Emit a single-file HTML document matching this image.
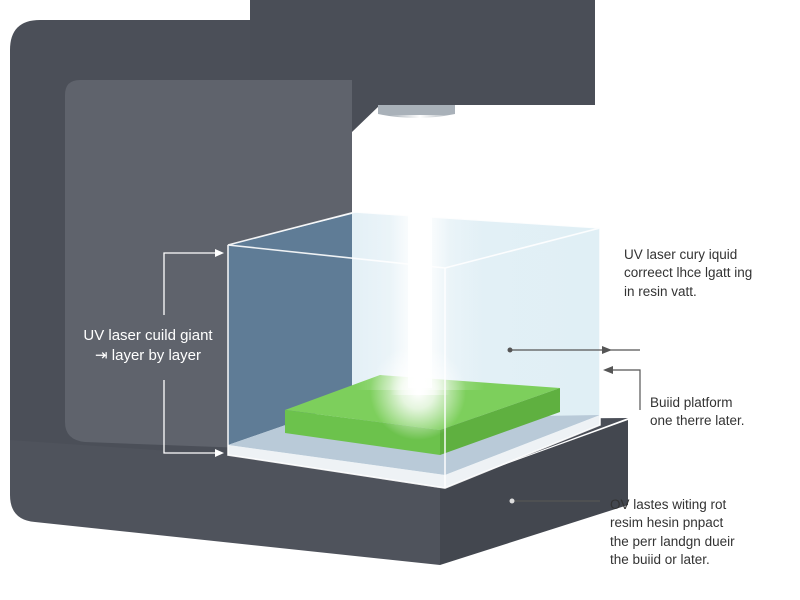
<!DOCTYPE html>
<html><head><meta charset="utf-8"><style>
html,body{margin:0;padding:0;background:#fff;width:800px;height:600px;overflow:hidden}
text{font-family:"Liberation Sans",sans-serif}
</style></head><body>
<svg width="800" height="600" viewBox="0 0 800 600" xmlns="http://www.w3.org/2000/svg">
<defs>
<linearGradient id="beam" x1="0" x2="1" y1="0" y2="0">
<stop offset="0" stop-color="#fff" stop-opacity="0"/>
<stop offset="0.5" stop-color="#fff" stop-opacity="1"/>
<stop offset="1" stop-color="#fff" stop-opacity="0"/>
</linearGradient>
<radialGradient id="glow"><stop offset="0" stop-color="#fff"/><stop offset="0.35" stop-color="#fff" stop-opacity="0.8"/><stop offset="1" stop-color="#fff" stop-opacity="0"/></radialGradient>
<linearGradient id="vat" x1="0" x2="1"><stop offset="0" stop-color="#e6f1f7"/><stop offset="1" stop-color="#e0eff5"/></linearGradient>
</defs>
<rect width="800" height="600" fill="#fff"/>
<!-- frame -->
<path d="M40 20 H250 V105 H352 V470 L10 470 V50 Q10 20 40 20Z" fill="#4b4f58"/>
<path d="M10 440 L228 455 L440 488 L440 565 L35 522 Q10 520 10 495Z" fill="#4f535c"/>
<path d="M352 420 L628 418 L440 488 L228 455Z" fill="#4a4e57"/>
<path d="M440 488 L628 420 V505 L440 565Z" fill="#43474f"/>
<rect x="250" y="0" width="345" height="105" fill="#4a4e57"/>
<path d="M352 105 H380 L352 132Z" fill="#4a4e57"/>
<path d="M80 80 H352 V452 L85 442 Q65 440 65 422 V95 Q65 80 80 80Z" fill="#5f636c"/>
<path d="M378 105 H455 V114 Q416 122 378 114Z" fill="#a9b1b9"/>
<!-- vat -->
<path d="M228 245 L355 212 L600 228 V420 L445 488 L228 455Z" fill="url(#vat)"/>
<path d="M228 245 L352 214 V385 Q352 395 362 395 L300 420 L228 445Z" fill="#5f7c96"/>
<path d="M228 445 L300 420 L600 415 L445 475Z" fill="#b9cad8"/>
<path d="M228 445 L445 475 L600 415 V425 L445 488 L228 455Z" fill="#eef2f5"/>
<!-- green block -->
<path d="M285 410 L380 375 L560 388 L440 430Z" fill="#7dcf5c"/>
<path d="M285 410 L440 430 V455 L285 433Z" fill="#6cc24c"/>
<path d="M440 430 L560 388 V412 L440 455Z" fill="#5fb040"/>
<!-- beam -->
<rect x="355" y="130" width="130" height="260" fill="url(#beam)" opacity="0.5"/>
<rect x="390" y="115" width="60" height="280" fill="url(#beam)"/>
<rect x="408" y="118" width="24" height="270" fill="#fff" opacity="0.85"/>
<circle cx="418" cy="392" r="48" fill="url(#glow)"/>
<!-- vat edges -->
<g stroke="#fff" stroke-width="1.6" fill="none" opacity="0.9">
<path d="M228 245 L355 212 L600 228 L445 268 Z"/>
<path d="M228 245 V455 L445 488 L600 425 V228"/>
<path d="M445 268 V488"/>
</g>
<!-- left callout -->
<g stroke="#fff" stroke-width="1.3" fill="none">
<path d="M164 315 V253 H218"/><path d="M164 380 V453 H218"/>
</g>
<path d="M224 253 L215 249 V257Z M224 453 L215 449 V457Z" fill="#fff"/>
<text x="148" y="340" fill="#fff" font-size="15" text-anchor="middle">UV laser cuild giant</text>
<text x="148" y="360" fill="#fff" font-size="15" text-anchor="middle">⇥ layer by layer</text>
<!-- right callouts -->
<g stroke="#555" stroke-width="1.2" fill="none">
<path d="M510 350 H640"/><path d="M612 370 H640 V410"/><path d="M512 501 H600"/>
</g>
<circle cx="510" cy="350" r="2.5" fill="#555"/><circle cx="512" cy="501" r="2.5" fill="#ddd"/>
<path d="M612 350 L602 346 V354Z M603 370 L613 366 V374Z" fill="#555"/>
<g fill="#333" font-size="13.5">
<text x="624" y="259">UV laser cury iquid</text>
<text x="624" y="277">correect lhce lgatt ing</text>
<text x="624" y="296">in resin vatt.</text>
<text x="650" y="407">Buiid platform</text>
<text x="650" y="425">one therre later.</text>
<text x="610" y="509">OV lastes witing rot</text>
<text x="610" y="527">resim hesin pnpact</text>
<text x="610" y="546">the perr landgn dueir</text>
<text x="610" y="564">the buiid or later.</text>
</g>
</svg>
</body></html>
